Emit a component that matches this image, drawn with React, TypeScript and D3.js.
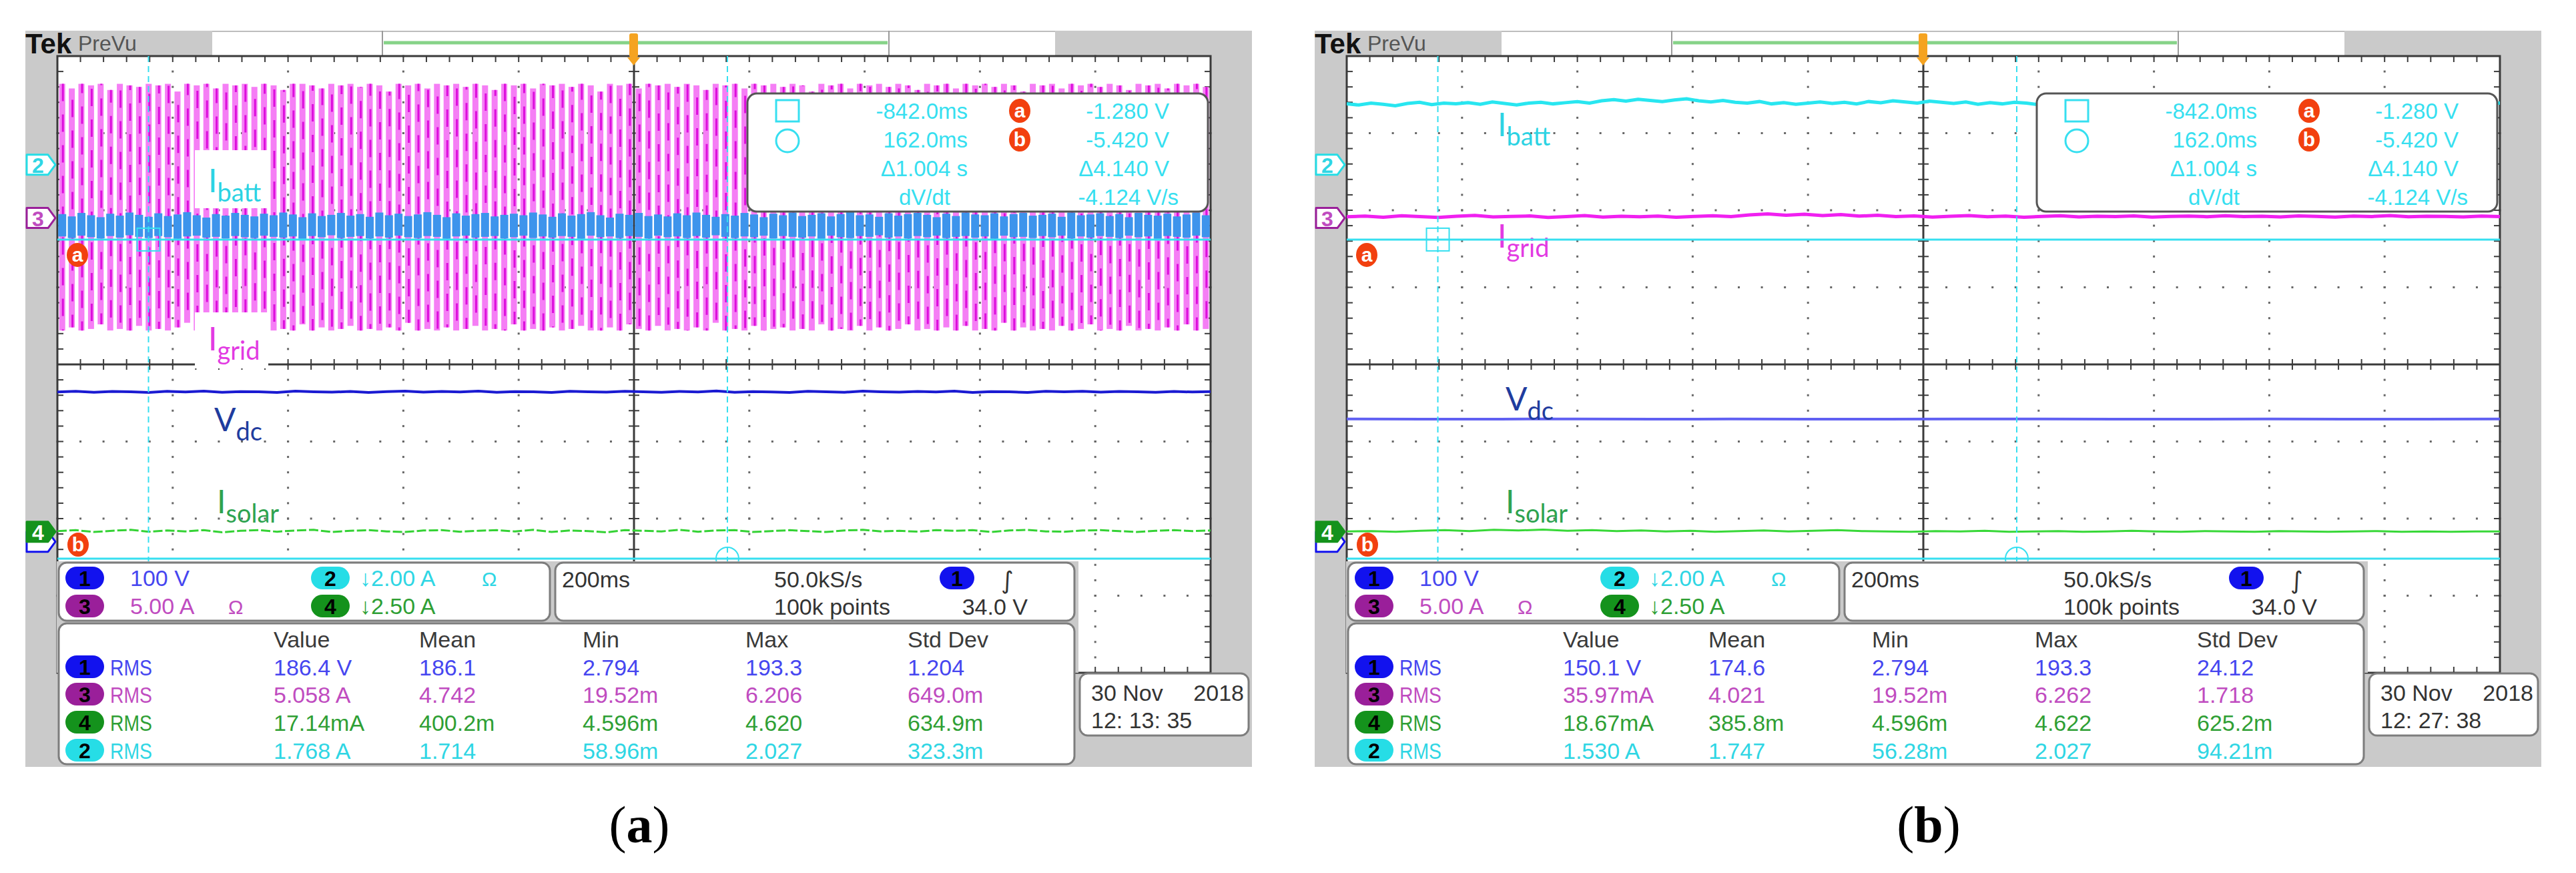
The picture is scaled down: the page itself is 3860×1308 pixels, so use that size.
import React from 'react';
import * as d3 from 'd3';

// ---- scope setup shared by both captures ----
const voltsPerDiv = [100, 2, 5, 2.5]; // ch1..ch4 per division
const groundDiv = [-2.3, 2.59, 1.9, -2.17]; // channel reference markers (div from centre)
const cursorTimes = [-0.842, 0.162]; // s
const cursorLevels = [-1.28, -5.42]; // V
const cursorRefDiv = 2.9;
const cursorVoltsPerDiv = 1;

const chBoxEntries = [
  { ch: 1, label: '100 V', ohm: false },
  { ch: 2, label: '\u21932.00 A', ohm: true },
  { ch: 3, label: '5.00 A', ohm: true },
  { ch: 4, label: '\u21932.50 A', ohm: false },
];
const timebase = ['200ms', '50.0kS/s', '100k points', '34.0 V'];
const readoutTimes = ['-842.0ms', '162.0ms', '\u03941.004 s', 'dV/dt'];
const readoutLevels = ['-1.280 V', '-5.420 V', '\u03944.140 V', '-4.124 V/s'];

const measHeaders = ['Value', 'Mean', 'Min', 'Max', 'Std Dev'];
const measChannels = [1, 3, 4, 2];
const measA = [
  ['186.4 V', '186.1', '2.794', '193.3', '1.204'],
  ['5.058 A', '4.742', '19.52m', '6.206', '649.0m'],
  ['17.14mA', '400.2m', '4.596m', '4.620', '634.9m'],
  ['1.768 A', '1.714', '58.96m', '2.027', '323.3m'],
];
const measB = [
  ['150.1 V', '174.6', '2.794', '193.3', '24.12'],
  ['35.97mA', '4.021', '19.52m', '6.262', '1.718'],
  ['18.67mA', '385.8m', '4.596m', '4.622', '625.2m'],
  ['1.530 A', '1.747', '56.28m', '2.027', '94.21m'],
];
const dateA = ['30 Nov', '2018', '12: 13: 35'];
const dateB = ['30 Nov', '2018', '12: 27: 38'];

// ---- capture (a): per-cycle extremes of I_grid (A) and I_batt (A) ----
const igridPeaksA = [
  8.7, 8.4, 8.7, 8.6, 8.7, 8.3, 8.7, 8.6, 8.5, 8.7,
  8.6, 8.7, 8.2, 8.7, 8.6, 8.7, 8.4, 8.7, 8.6, 8.7,
  8.5, 8.7, 8.6, 8.3, 8.7, 8.7, 8.6, 8.4, 8.7, 8.6,
  8.7, 8.5, 8.7, 8.6, 8.2, 8.7, 8.6, 8.7, 8.4, 8.7,
  8.6, 8.7, 8.5, 8.7, 8.6, 8.3, 8.7, 8.6, 8.7, 8.4,
  8.7, 8.6, 8.7, 8.5, 8.7, 8.6, 8.2, 8.7, 8.6, 8.7,
  8.4, 8.7, 8.6, 8.7, 8.5, 8.7, 8.6, 8.3, 8.7, 8.6,
  8.7, 8.4, 8.7, 8.6, 8.7, 8.5, 8.7, 8.6, 8.2, 8.7,
  8.6, 8.7, 8.4, 8.7, 8.6, 8.7, 8.5, 8.7, 8.6, 8.3,
  8.7, 8.6, 8.7, 8.4, 8.7, 8.6, 8.7, 8.5, 8.7, 8.6,
  8.2, 8.7, 8.6, 8.7, 8.4, 8.7, 8.6, 8.7, 8.5, 8.7,
  8.6, 8.3, 8.7, 8.6, 8.7, 8.4, 8.7, 8.6, 8.7, 8.5,
];
const igridTroughsA = [
  -7.3, -7.1, -7.3, -7.2, -6.9, -7.3, -7.2, -7.3, -7.0, -7.3,
  -7.2, -7.3, -7.1, -6.8, -7.3, -7.2, -7.3, -7.0, -7.3, -7.2,
  -7.3, -7.0, -7.3, -7.2, -7.3, -6.9, -7.3, -7.1, -7.3, -7.2,
  -7.0, -7.3, -7.2, -7.3, -7.1, -7.3, -6.8, -7.3, -7.2, -7.3,
  -7.1, -7.3, -7.2, -7.0, -7.3, -7.2, -7.3, -6.9, -7.3, -7.2,
  -7.3, -7.1, -7.3, -7.2, -7.0, -7.3, -7.3, -7.1, -7.3, -6.9,
  -7.2, -7.3, -7.0, -7.3, -7.2, -7.3, -7.1, -7.3, -6.8, -7.3,
  -7.2, -7.3, -7.0, -7.3, -7.2, -7.1, -7.3, -7.2, -7.3, -6.9,
  -7.3, -7.2, -7.3, -7.0, -7.3, -7.1, -7.3, -7.2, -6.9, -7.3,
  -7.2, -7.3, -7.1, -7.3, -7.0, -7.3, -7.2, -7.3, -6.8, -7.3,
  -7.1, -7.3, -7.2, -7.3, -7.0, -7.3, -7.2, -6.9, -7.3, -7.2,
  -7.3, -7.0, -7.3, -7.2, -7.3, -7.1, -7.3, -6.9, -7.3, -7.2,
];
const ibattPeaksA = [
  -1.28, -1.34, -1.25, -1.31, -1.36, -1.27, -1.32, -1.24, -1.3, -1.35,
  -1.26, -1.33, -1.29, -1.23, -1.31, -1.37, -1.28, -1.32, -1.25, -1.3,
  -1.34, -1.27, -1.31, -1.24, -1.29, -1.36, -1.26, -1.33, -1.3, -1.25,
  -1.32, -1.28, -1.35, -1.24, -1.31, -1.27, -1.33, -1.29, -1.23, -1.3,
  -1.36, -1.26, -1.32, -1.28, -1.25, -1.34, -1.3, -1.27, -1.31, -1.24,
  -1.29, -1.35, -1.26, -1.32, -1.28, -1.23, -1.31, -1.37, -1.27, -1.3,
  -1.25, -1.33, -1.29, -1.34, -1.26, -1.31, -1.24, -1.3, -1.35, -1.28,
  -1.32, -1.25, -1.29, -1.36, -1.27, -1.31, -1.24, -1.33, -1.3, -1.26,
  -1.34, -1.28, -1.23, -1.31, -1.29, -1.35, -1.26, -1.32, -1.28, -1.25,
  -1.3, -1.36, -1.27, -1.33, -1.24, -1.29, -1.31, -1.26, -1.34, -1.28,
  -1.25, -1.32, -1.3, -1.27, -1.35, -1.24, -1.31, -1.29, -1.26, -1.33,
  -1.28, -1.36, -1.25, -1.3, -1.32, -1.27, -1.34, -1.29, -1.24, -1.31,
];
const ibattTroughsA = [
  -1.86, -1.9, -1.84, -1.88, -1.91, -1.85, -1.89, -1.83, -1.87, -1.9,
  -1.85, -1.88, -1.92, -1.86, -1.84, -1.89, -1.87, -1.91, -1.85, -1.88,
  -1.9, -1.84, -1.87, -1.89, -1.86, -1.92, -1.85, -1.88, -1.83, -1.9,
  -1.87, -1.85, -1.91, -1.86, -1.89, -1.84, -1.88, -1.9, -1.85, -1.87,
  -1.92, -1.86, -1.84, -1.89, -1.87, -1.85, -1.91, -1.88, -1.84, -1.9,
  -1.86, -1.89, -1.85, -1.87, -1.92, -1.84, -1.88, -1.86, -1.9, -1.85,
  -1.87, -1.91, -1.84, -1.88, -1.86, -1.9, -1.85, -1.89, -1.83, -1.87,
  -1.9, -1.86, -1.88, -1.84, -1.91, -1.85, -1.87, -1.89, -1.86, -1.92,
  -1.84, -1.88, -1.9, -1.85, -1.87, -1.83, -1.89, -1.86, -1.91, -1.85,
  -1.88, -1.84, -1.9, -1.87, -1.85, -1.89, -1.86, -1.92, -1.84, -1.88,
  -1.87, -1.9, -1.85, -1.88, -1.84, -1.91, -1.86, -1.89, -1.85, -1.87,
  -1.9, -1.84, -1.88, -1.86, -1.92, -1.85, -1.87, -1.89, -1.84, -1.88,
];
const vdcA = [
  194.3, 195.2, 193.8, 194.9, 194.5, 193.7, 195.1, 194.2, 195.4, 193.9,
  194.8, 194.4, 193.7, 195.3, 194.6, 194.0, 195.0, 193.6, 194.7, 195.3,
  194.1, 194.9, 194.3, 195.4, 193.9, 194.7, 194.6, 193.6, 195.2, 194.4,
  194.1, 195.2, 194.5, 193.8, 195.0, 194.3, 195.5, 193.9, 194.8, 194.2,
  193.7, 195.1, 194.5, 193.9, 195.3, 194.6, 194.0, 194.9, 194.3, 195.4,
  193.7, 194.8, 194.5, 193.6, 195.1, 194.4, 195.2, 194.1, 194.9, 194.5,
  193.8, 195.0, 194.2, 194.8,
];
const isolarA = [
  0.02, 0.05, -0.01, 0.03, 0.06, 0.0, 0.04, 0.01, 0.05, -0.02,
  0.03, 0.05, 0.0, 0.04, 0.06, -0.01, 0.03, 0.05, 0.01, -0.01,
  0.04, 0.05, 0.0, 0.03, 0.05, 0.01, 0.06, -0.01, 0.04, 0.02,
  -0.02, 0.05, 0.03, 0.01, 0.06, 0.0, 0.04, 0.05, -0.01, 0.02,
  0.05, 0.02, -0.01, 0.04, 0.06, 0.01, 0.03, 0.0, 0.05, 0.03,
  0.05, -0.01, 0.04, 0.06, 0.01, 0.0, 0.04, 0.05, 0.02, -0.01,
  0.03, 0.05, 0.02, 0.04,
];

// ---- capture (b): sampled traces ----
const ibattB = [
  1.58, 1.55, 1.6, 1.57, 1.53, 1.59, 1.62, 1.56, 1.6, 1.58,
  1.61, 1.57, 1.63, 1.59, 1.55, 1.6, 1.62, 1.58, 1.61, 1.64,
  1.6, 1.66, 1.69, 1.65, 1.7, 1.67, 1.64, 1.68, 1.71, 1.66,
  1.63, 1.67, 1.62, 1.6, 1.64, 1.58, 1.61, 1.57, 1.6, 1.63,
  1.59, 1.62, 1.58, 1.64, 1.61, 1.66, 1.63, 1.6, 1.65, 1.62,
  1.59, 1.63, 1.57, 1.61, 1.58, 1.62, 1.6, 1.56, 1.61, 1.59,
  1.64, 1.68, 1.65, 1.7, 1.66, 1.63, 1.67, 1.61, 1.64, 1.6,
  1.62, 1.58, 1.61, 1.57, 1.6, 1.63, 1.59, 1.62, 1.58, 1.61,
  1.6, 1.57, 1.62, 1.59, 1.63, 1.6, 1.58, 1.62, 1.59, 1.61,
  1.57, 1.6, 1.63, 1.59, 1.61, 1.6,
];
const igridB = [
  0.08, 0.12, 0.05, 0.14, 0.09, 0.03, 0.11, 0.16, 0.07, 0.1,
  0.13, 0.04, 0.09, 0.15, 0.06, 0.11, 0.08, 0.12, 0.05, 0.1,
  0.14, 0.09, 0.2, 0.26, 0.18, 0.24, 0.15, 0.22, 0.12, 0.17,
  0.09, 0.13, 0.06, 0.11, 0.15, 0.08, 0.12, 0.05, 0.1, 0.14,
  0.07, 0.11, 0.09, 0.13, 0.06, 0.1, 0.12, 0.08, 0.14, 0.09,
  0.11, 0.07, 0.13, 0.1, 0.06, 0.12, 0.09, 0.15, 0.08, 0.11,
  0.1, 0.07, 0.12, 0.09,
];
const vdcB = [159.2, 159.0, 159.1, 159.3, 159.0, 159.2, 159.1, 159.0, 159.2, 159.3, 159.1, 159.0, 159.2, 159.1, 159.0, 159.2];
const isolarB = [
  0.01, 0.02, 0.0, 0.03, 0.05, 0.02, 0.06, 0.04, 0.07, 0.03,
  0.05, 0.02, 0.04, 0.01, 0.03, 0.0, 0.02, 0.04, 0.01, 0.03,
  0.05, 0.02, 0.01, 0.0, 0.02, 0.01, 0.03, 0.0, 0.01, 0.02,
  0.0, 0.01, 0.03, 0.01, 0.0, 0.02, 0.01, 0.0, 0.02, 0.01,
  0.0, 0.01, 0.02, 0.0, 0.01, 0.0, 0.01, 0.01,
];

// ---- layout ----
const GL = 86, GR = 1814, GT = 84, GB = 1008;
const tScale = d3.scaleLinear().domain([-1, 1]).range([GL, GR]);
const divScale = d3.scaleLinear().domain([-4, 4]).range([GB, GT]);
const chY = (ch: number, v: number) => divScale(v / voltsPerDiv[ch - 1] + groundDiv[ch - 1]);
const cursorY = (v: number) => divScale(v / cursorVoltsPerDiv + cursorRefDiv);

const UI = 'Liberation Sans, Arial, sans-serif';
const chText: Record<number, string> = { 1: '#4646f0', 2: '#2fd6e4', 3: '#c04cc0', 4: '#2f9f35' };
const chBadge: Record<number, string> = { 1: '#1212ee', 2: '#26dde6', 3: '#9a1f9a', 4: '#14921c' };
const CYAN = '#36dff0';

function sampled(ch: number, values: number[]) {
  const t = d3.scaleLinear().domain([0, values.length - 1]).range([-1, 1]);
  return d3.line<number>().x((_, i) => tScale(t(i))).y(v => chY(ch, v))(values) || '';
}

function Graticule() {
  const majorT = d3.range(11).map(i => -1 + i * 0.2);
  const minorT = d3.range(51).map(i => -1 + i * 0.04);
  const majorD = d3.range(-4, 5);
  const minorD = d3.range(41).map(i => -4 + i * 0.2);
  const cy = divScale(0), cx = tScale(0);
  const dots: JSX.Element[] = [];
  majorT.forEach((t, i) => {
    if (i === 0 || i === 5 || i === 10) return;
    minorD.forEach((d, j) => dots.push(<rect key={`v${i}-${j}`} x={tScale(t) - 1.5} y={divScale(d) - 1.5} width={3} height={3} fill="#666" />));
  });
  majorD.forEach(d => {
    if (d === -4 || d === 0 || d === 4) return;
    minorT.forEach((t, j) => dots.push(<rect key={`h${d}-${j}`} x={tScale(t) - 1.5} y={divScale(d) - 1.5} width={3} height={3} fill="#666" />));
  });
  return (
    <g>
      <rect x={GL} y={GT} width={GR - GL} height={GB - GT} fill="#fff" />
      {dots}
      <g stroke="#3c3c3c" strokeWidth={2}>
        {minorT.map((t, i) => (
          <g key={`tt${i}`}>
            <line x1={tScale(t)} x2={tScale(t)} y1={cy - 8} y2={cy + 8} />
            <line x1={tScale(t)} x2={tScale(t)} y1={GT} y2={GT + 9} />
            <line x1={tScale(t)} x2={tScale(t)} y1={GB - 9} y2={GB} />
          </g>
        ))}
        {minorD.map((d, i) => (
          <g key={`td${i}`}>
            <line x1={cx - 8} x2={cx + 8} y1={divScale(d)} y2={divScale(d)} />
            <line x1={GL} x2={GL + 9} y1={divScale(d)} y2={divScale(d)} />
            <line x1={GR - 9} x2={GR} y1={divScale(d)} y2={divScale(d)} />
          </g>
        ))}
      </g>
      <line x1={GL} x2={GR} y1={cy} y2={cy} stroke="#3a3a3a" strokeWidth={3} />
      <line x1={cx} x2={cx} y1={GT} y2={GB} stroke="#3a3a3a" strokeWidth={3} />
      <rect x={GL} y={GT} width={GR - GL} height={GB - GT} fill="none" stroke="#3a3a3a" strokeWidth={3} />
    </g>
  );
}

function Badge({ cx, cy, n, w = 58 }: { cx: number; cy: number; n: number; w?: number }) {
  return (
    <g>
      <rect x={cx - w / 2} y={cy - 17} width={w} height={34} rx={17} fill={chBadge[n]} />
      <text x={cx} y={cy + 12} textAnchor="middle" fontSize={32} fontWeight="bold" fill="#000" fontFamily={UI}>{n}</text>
    </g>
  );
}

function ChMarker({ cy, n, filled, hideText }: { cy: number; n: number; filled?: boolean; hideText?: boolean }) {
  const c = chBadge[n];
  return (
    <g>
      <path d={`M40,${cy - 15} H72 L83,${cy} L72,${cy + 15} H40 Z`} fill={filled ? c : '#fff'} stroke={c} strokeWidth={3} strokeLinejoin="round" />
      {!hideText && (
        <text x={57} y={cy + 12} textAnchor="middle" fontSize={32} fontWeight="bold" fill={filled ? '#fff' : chText[n]} fontFamily={UI}>{n}</text>
      )}
    </g>
  );
}

function RedTag({ cx, cy, s }: { cx: number; cy: number; s: string }) {
  return (
    <g>
      <ellipse cx={cx} cy={cy} rx={16} ry={18} fill="#f2400f" />
      <text x={cx} y={cy + 10} textAnchor="middle" fontSize={30} fontWeight="bold" fill="#fff" fontFamily={UI}>{s}</text>
    </g>
  );
}

function Label({ x, y, main, sub, color, box }: { x: number; y: number; main: string; sub: string; color: string; box?: number[] }) {
  return (
    <g>
      {box && <rect x={box[0]} y={box[1]} width={box[2]} height={box[3]} fill="#fff" />}
      <text x={x} y={y} fontFamily="Lato, 'Open Sans', sans-serif" fontSize={48} fill={color}>
        {main}
        <tspan dy={14} fontSize={38}>{sub}</tspan>
      </text>
    </g>
  );
}

type PanelProps = { dx: number; tag: string; meas: string[][]; date: string[] };

function Panel({ dx, tag, meas, date }: PanelProps) {
  const isA = tag === 'a';
  const period = 2 / igridPeaksA.length;
  const cycleT = (i: number) => -1 + (i + 0.5) * period;
  const clipId = `grid-${tag}`;
  const colX = [410, 628, 873, 1117, 1360];
  const rowY = [1012, 1053, 1095, 1137];

  return (
    <g transform={`translate(${dx},0)`}>
      <defs>
        <clipPath id={clipId}>
          <rect x={GL} y={GT} width={GR - GL} height={GB - GT} />
        </clipPath>
      </defs>
      {/* frame */}
      <rect x={38} y={46} width={1838} height={1103} fill="#cacaca" />
      <rect x={318} y={46} width={1263} height={38} fill="#fff" />
      <line x1={318} x2={1581} y1={47} y2={47} stroke="#bdbdbd" strokeWidth={2} />
      <line x1={573} x2={573} y1={46} y2={84} stroke="#9a9a9a" strokeWidth={2} />
      <line x1={1332} x2={1332} y1={46} y2={84} stroke="#9a9a9a" strokeWidth={2} />
      <line x1={575} x2={1330} y1={64} y2={64} stroke="#86d388" strokeWidth={5} />
      <text x={38} y={80} fontSize={42} fontWeight="bold" fill="#111" fontFamily={UI}>Tek</text>
      <text x={117} y={76} fontSize={32} fill="#555" fontFamily={UI}>PreVu</text>

      <Graticule />

      {/* traces */}
      <g clipPath={`url(#${clipId})`}>
        {isA ? (
          <g>
            {igridPeaksA.map((p, i) => {
              const cx = tScale(cycleT(i));
              const y0 = chY(3, p), y1 = chY(3, igridTroughsA[i]);
              return (
                <g key={`ig${i}`}>
                  <rect x={cx - 4.5} y={y0} width={9} height={y1 - y0} fill="#f57ef5" />
                  <line x1={cx + 1} x2={cx + 1} y1={y0} y2={y1} stroke="#dc0edc" strokeWidth={3} strokeDasharray="26 20" strokeDashoffset={(i * 29) % 46} />
                </g>
              );
            })}
            {ibattPeaksA.map((p, i) => {
              const cx = tScale(cycleT(i));
              const y0 = chY(2, p), y1 = chY(2, ibattTroughsA[i]);
              return <rect key={`ib${i}`} x={cx - 6} y={y0} width={12} height={y1 - y0} fill="#3d94ec" />;
            })}
            <path d={sampled(1, vdcA)} fill="none" stroke="#1a1ad2" strokeWidth={4} />
            <path d={sampled(4, isolarA)} fill="none" stroke="#34d234" strokeWidth={3} strokeDasharray="14 4" />
          </g>
        ) : (
          <g>
            <path d={sampled(2, ibattB)} fill="none" stroke="#28e6f0" strokeWidth={5} />
            <path d={sampled(3, igridB)} fill="none" stroke="#f020f0" strokeWidth={5} />
            <path d={sampled(1, vdcB)} fill="none" stroke="#6060f2" strokeWidth={4} />
            <path d={sampled(4, isolarB)} fill="none" stroke="#38d838" strokeWidth={3} />
          </g>
        )}
      </g>

      {/* trace labels */}
      {isA ? (
        <g>
          <Label x={312} y={288} main="I" sub="batt" color="#2cd3e3" box={[292, 225, 111, 87]} />
          <Label x={312} y={525} main="I" sub="grid" color="#e23ae2" box={[292, 468, 110, 84]} />
          <Label x={321} y={646} main="V" sub="dc" color="#1f3c9e" />
          <Label x={325} y={769} main="I" sub="solar" color="#2ea350" />
        </g>
      ) : (
        <g>
          <Label x={312} y={204} main="I" sub="batt" color="#2cd3e3" />
          <Label x={312} y={371} main="I" sub="grid" color="#e23ae2" />
          <Label x={324} y={615} main="V" sub="dc" color="#1f3c9e" />
          <Label x={324} y={769} main="I" sub="solar" color="#2ea350" />
        </g>
      )}

      {/* cursors */}
      {cursorTimes.map((t, i) => (
        <line key={`vc${i}`} x1={tScale(t)} x2={tScale(t)} y1={GT} y2={GB} stroke={CYAN} strokeWidth={2} strokeDasharray="9 6" />
      ))}
      {cursorLevels.map((v, i) => (
        <line key={`hc${i}`} x1={GL} x2={GR} y1={cursorY(v)} y2={cursorY(v)} stroke={CYAN} strokeWidth={3} />
      ))}
      <rect x={tScale(cursorTimes[0]) - 17} y={cursorY(cursorLevels[0]) - 17} width={34} height={34} fill="none" stroke={CYAN} strokeWidth={2} />
      <circle cx={tScale(cursorTimes[1])} cy={cursorY(cursorLevels[1])} r={17} fill="none" stroke={CYAN} strokeWidth={2} />
      <RedTag cx={116} cy={cursorY(cursorLevels[0]) + 23} s="a" />
      <RedTag cx={117} cy={cursorY(cursorLevels[1]) - 21} s="b" />

      {/* cursor readout */}
      <rect x={1120} y={140} width={690} height={177} rx={14} fill="#fff" stroke="#555" strokeWidth={3} />
      <rect x={1163} y={150} width={34} height={32} fill="none" stroke={CYAN} strokeWidth={3} />
      <circle cx={1180} cy={211} r={17} fill="none" stroke={CYAN} strokeWidth={3} />
      <RedTag cx={1528} cy={166} s="a" />
      <RedTag cx={1528} cy={209} s="b" />
      {readoutTimes.map((s, i) => (
        <text key={`rt${i}`} x={i === 3 ? 1424 : 1450} y={178 + i * 43} textAnchor="end" fontSize={33} fill={CYAN} fontFamily={UI}>{s}</text>
      ))}
      {readoutLevels.map((s, i) => (
        <text key={`rl${i}`} x={i === 3 ? 1766 : 1752} y={178 + i * 43} textAnchor="end" fontSize={33} fill={CYAN} fontFamily={UI}>{s}</text>
      ))}

      {/* trigger position */}
      <rect x={tScale(0) - 7} y={50} width={13} height={36} rx={3} fill="#f5a320" />
      <path d={`M${tScale(0) - 10},86 L${tScale(0) + 9},86 L${tScale(0) - 0.5},98 Z`} fill="#f5a320" />

      {/* channel reference markers */}
      <ChMarker cy={divScale(groundDiv[1])} n={2} />
      <ChMarker cy={divScale(groundDiv[2])} n={3} />
      <ChMarker cy={divScale(groundDiv[0])} n={1} hideText />
      <ChMarker cy={divScale(groundDiv[3])} n={4} filled />

      {/* info area */}
      <rect x={85} y={841} width={1531} height={167} fill="#cacaca" />
      <rect x={88} y={843} width={736} height={87} rx={12} fill="#fff" stroke="#7d7d7d" strokeWidth={3} />
      <rect x={832} y={843} width={778} height={87} rx={12} fill="#fff" stroke="#7d7d7d" strokeWidth={3} />
      <rect x={88} y={934} width={1522} height={211} rx={12} fill="#fff" stroke="#7d7d7d" strokeWidth={3} />
      <rect x={1618} y={1009} width={253} height={93} rx={12} fill="#fff" stroke="#7d7d7d" strokeWidth={3} />

      {chBoxEntries.map((e, i) => {
        const col = e.ch === 1 || e.ch === 3 ? 0 : 1;
        const row = e.ch === 1 || e.ch === 2 ? 0 : 1;
        const base = 878 + row * 42;
        const bx = col === 0 ? 127 : 495;
        const tx = col === 0 ? 195 : 539;
        const ox = col === 0 ? 342 : 722;
        return (
          <g key={`cb${i}`}>
            <Badge cx={bx} cy={base - 12} n={e.ch} />
            <text x={tx} y={base} fontSize={34} fill={chText[e.ch]} fontFamily={UI}>{e.label}</text>
            {e.ohm && <text x={ox} y={base} fontSize={30} fill={chText[e.ch]} fontFamily={UI}>{'\u03A9'}</text>}
          </g>
        );
      })}

      <text x={842} y={880} fontSize={34} fill="#333" fontFamily={UI}>{timebase[0]}</text>
      <text x={1160} y={880} fontSize={34} fill="#333" fontFamily={UI}>{timebase[1]}</text>
      <text x={1160} y={921} fontSize={34} fill="#333" fontFamily={UI}>{timebase[2]}</text>
      <Badge cx={1434} cy={866} n={1} w={52} />
      <text x={1500} y={882} fontSize={36} fill="#333" fontFamily="DejaVu Sans">{'\u222B'}</text>
      <text x={1540} y={921} textAnchor="end" fontSize={34} fill="#333" fontFamily={UI}>{timebase[3]}</text>

      {measHeaders.map((h, i) => (
        <text key={`mh${i}`} x={colX[i]} y={970} fontSize={34} fill="#3a3a3a" fontFamily={UI}>{h}</text>
      ))}
      {measChannels.map((ch, r) => (
        <g key={`mr${r}`}>
          <Badge cx={127} cy={rowY[r] - 13} n={ch} />
          <text x={165} y={rowY[r]} fontSize={34} fill={chText[ch]} fontFamily={UI} textLength={63} lengthAdjust="spacingAndGlyphs">RMS</text>
          {meas[r].map((v, c) => (
            <text key={`mv${c}`} x={colX[c]} y={rowY[r]} fontSize={34} fill={chText[ch]} fontFamily={UI}>{v}</text>
          ))}
        </g>
      ))}

      <text x={1635} y={1050} fontSize={34} fill="#333" fontFamily={UI}>{date[0]}</text>
      <text x={1864} y={1050} textAnchor="end" fontSize={34} fill="#333" fontFamily={UI}>{date[1]}</text>
      <text x={1635} y={1091} fontSize={34} fill="#333" fontFamily={UI}>{date[2]}</text>

      {/* caption */}
      <text x={958} y={1262} textAnchor="middle" fontSize={78} fill="#000" fontFamily="Liberation Serif, 'Times New Roman', serif">
        (<tspan fontWeight="bold">{tag}</tspan>)
      </text>
    </g>
  );
}

export default function App() {
  return (
    <svg width={3860} height={1308} style={{ position: 'absolute', left: 0, top: 0, background: '#fff' }}>
      <rect width={3860} height={1308} fill="#fff" />
      <Panel dx={0} tag="a" meas={measA} date={dateA} />
      <Panel dx={1932} tag="b" meas={measB} date={dateB} />
    </svg>
  );
}
